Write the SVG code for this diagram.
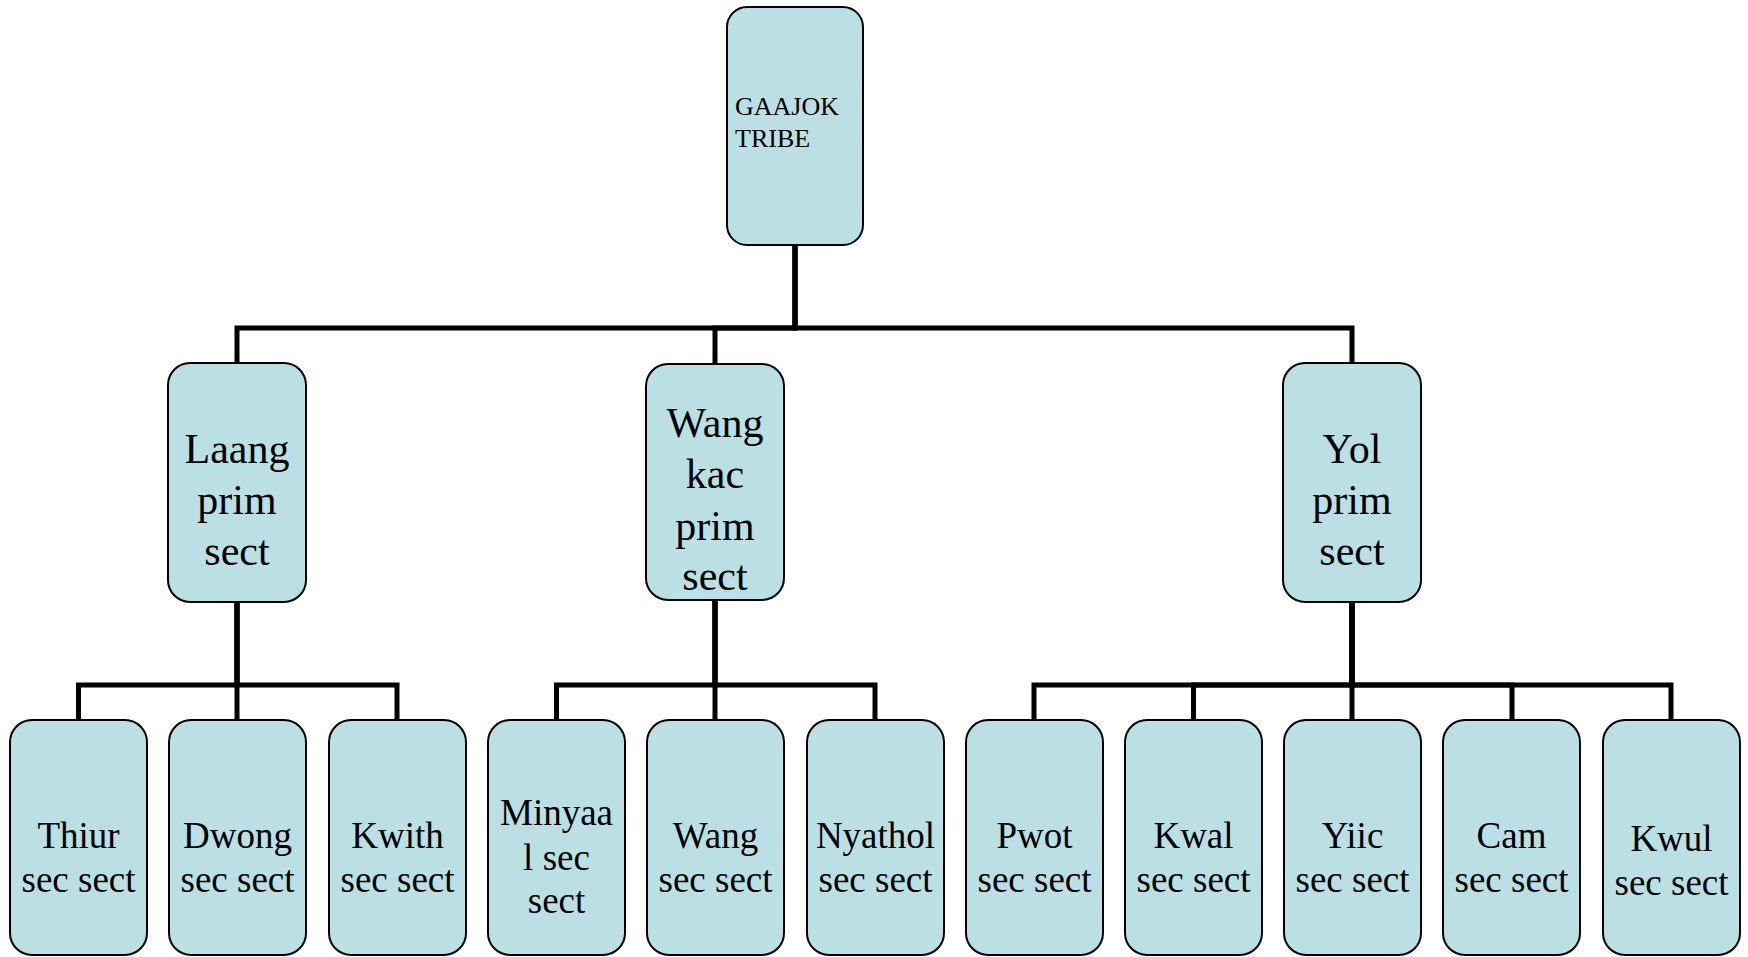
<svg xmlns="http://www.w3.org/2000/svg" width="1748" height="957" viewBox="0 0 1748 957">
<style>
.box{fill:#bbe0e3;stroke:#000;stroke-width:2}
.conn{fill:none;stroke:#000;stroke-width:5;stroke-linejoin:miter}
text{font-family:"Liberation Serif","Times New Roman",serif;fill:#000}
.t0{font-size:26px}
.t1{font-size:42px;text-anchor:middle}
.t2{font-size:37px;text-anchor:middle}
</style>
<rect width="1748" height="957" fill="#fff"/>
<g id="connectors">
<path class="conn" d="M795,245 V328 H237 V363"/>
<path class="conn" d="M795,245 V328 H715 V364"/>
<path class="conn" d="M795,245 V328 H1352 V363"/>
<path class="conn" d="M237,602 V685 H78.5 V720"/>
<path class="conn" d="M237,602 V720"/>
<path class="conn" d="M237,602 V685 H397 V720"/>
<path class="conn" d="M715,600 V685 H556.5 V720"/>
<path class="conn" d="M715,600 V720"/>
<path class="conn" d="M715,600 V685 H875 V720"/>
<path class="conn" d="M1352,602 V685 H1034 V720"/>
<path class="conn" d="M1352,602 V685 H1193.5 V720"/>
<path class="conn" d="M1352,602 V720"/>
<path class="conn" d="M1352,602 V685 H1512 V720"/>
<path class="conn" d="M1352,602 V685 H1671 V720"/>
</g>
<g id="gaajok">
<rect class="box" x="727" y="7" width="136" height="238" rx="20"/>
<text class="t0" x="735" y="115">GAAJOK</text>
<text class="t0" x="735" y="147">TRIBE</text>
</g>
<g id="laang">
<rect class="box" x="168" y="363" width="138" height="239" rx="22"/>
<text class="t1" x="237" y="463">Laang</text>
<text class="t1" x="237" y="514">prim</text>
<text class="t1" x="237" y="565">sect</text>
</g>
<g id="wangkac">
<rect class="box" x="646" y="364" width="138" height="236" rx="22"/>
<text class="t1" x="715" y="437">Wang</text>
<text class="t1" x="715" y="488">kac</text>
<text class="t1" x="715" y="540">prim</text>
<text class="t1" x="715" y="590">sect</text>
</g>
<g id="yol">
<rect class="box" x="1283" y="363" width="138" height="239" rx="22"/>
<text class="t1" x="1352" y="463">Yol</text>
<text class="t1" x="1352" y="514">prim</text>
<text class="t1" x="1352" y="565">sect</text>
</g>
<g id="thiur">
<rect class="box" x="10" y="720" width="137" height="235" rx="22"/>
<text class="t2" x="78.5" y="848">Thiur</text>
<text class="t2" x="78.5" y="892">sec sect</text>
</g>
<g id="dwong">
<rect class="box" x="169" y="720" width="137" height="235" rx="22"/>
<text class="t2" x="237.5" y="848">Dwong</text>
<text class="t2" x="237.5" y="892">sec sect</text>
</g>
<g id="kwith">
<rect class="box" x="329" y="720" width="137" height="235" rx="22"/>
<text class="t2" x="397.5" y="848">Kwith</text>
<text class="t2" x="397.5" y="892">sec sect</text>
</g>
<g id="minyaal">
<rect class="box" x="488" y="720" width="137" height="235" rx="22"/>
<text class="t2" x="556.5" y="825">Minyaa</text>
<text class="t2" x="556.5" y="870">l sec</text>
<text class="t2" x="556.5" y="913">sect</text>
</g>
<g id="wang">
<rect class="box" x="647" y="720" width="137" height="235" rx="22"/>
<text class="t2" x="715.5" y="848">Wang</text>
<text class="t2" x="715.5" y="892">sec sect</text>
</g>
<g id="nyathol">
<rect class="box" x="807" y="720" width="137" height="235" rx="22"/>
<text class="t2" x="875.5" y="848">Nyathol</text>
<text class="t2" x="875.5" y="892">sec sect</text>
</g>
<g id="pwot">
<rect class="box" x="966" y="720" width="137" height="235" rx="22"/>
<text class="t2" x="1034.5" y="848">Pwot</text>
<text class="t2" x="1034.5" y="892">sec sect</text>
</g>
<g id="kwal">
<rect class="box" x="1125" y="720" width="137" height="235" rx="22"/>
<text class="t2" x="1193.5" y="848">Kwal</text>
<text class="t2" x="1193.5" y="892">sec sect</text>
</g>
<g id="yiic">
<rect class="box" x="1284" y="720" width="137" height="235" rx="22"/>
<text class="t2" x="1352.5" y="848">Yiic</text>
<text class="t2" x="1352.5" y="892">sec sect</text>
</g>
<g id="cam">
<rect class="box" x="1443" y="720" width="137" height="235" rx="22"/>
<text class="t2" x="1511.5" y="848">Cam</text>
<text class="t2" x="1511.5" y="892">sec sect</text>
</g>
<g id="kwul">
<rect class="box" x="1603" y="720" width="137" height="235" rx="22"/>
<text class="t2" x="1671.5" y="851">Kwul</text>
<text class="t2" x="1671.5" y="895">sec sect</text>
</g>
</svg>
